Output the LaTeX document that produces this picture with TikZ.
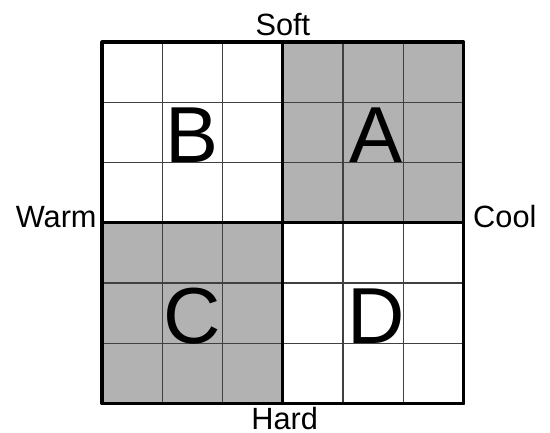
\documentclass[tikz,border=0pt]{standalone}
\usepackage{fontspec}
\setmainfont{Liberation Sans}
\begin{document}
\begin{tikzpicture}[line join=round, line cap=rect,
	cellgrid/.style={draw=black!75, line width=0.7pt},
	bold/.style={draw=black, line width=1.45pt},
	side/.style={inner sep=0pt, font=\fontsize{14.5}{16}\selectfont},
	big/.style={inner sep=0pt, anchor=base, font=\fontsize{37.5}{40}\selectfont}]
			\useasboundingbox (-1.692,-0.484) rectangle (7.43,6.697);
			\fill[black!30] (3,3) rectangle (6,6) (0,0) rectangle (3,3);
			\draw[cellgrid] (0,0) grid (6,6);
			\draw[bold] (0,0) rectangle (6,6) (3,0)--(3,6) (0,3)--(6,3);
			\path (1.5,4) node[big] (B) {B};
			\path (4.55,4) node[big] (A) {A};
			\path (1.5,1) node[big] (C) {C};
			\path (4.55,1) node[big] (D) {D};
			\path (3,6.1) node[side, anchor=base] (soft) {Soft};
			\path (3.03,-0.42) node[side, anchor=base] (hard) {Hard};
			\path (-0.083,2.932) node[side, anchor=base east] (warm) {Warm};
			\path (6.15,2.932) node[side, anchor=base west] (cool) {Cool};
	\end{tikzpicture}
\end{document}
